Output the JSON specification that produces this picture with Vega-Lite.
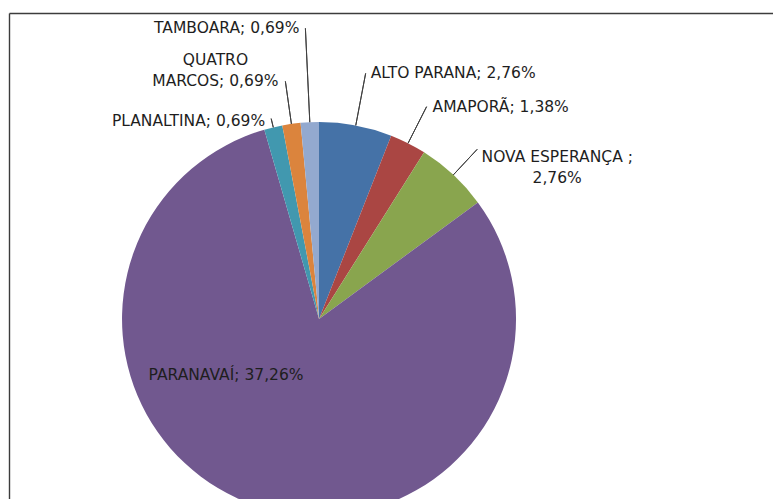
{
  "$schema": "https://vega.github.io/schema/vega-lite/v6.json",
  "width": 764,
  "height": 486,
  "autosize": {"type": "none"},
  "padding": {"left": 9, "top": 13, "right": 0, "bottom": 0},
  "background": "white",
  "view": {"stroke": null},
  "config": {
    "text": {"font": "DejaVu Sans", "fontSize": 15.5, "color": "#1e1e1e", "lineBreak": "\n", "lineHeight": 21, "baseline": "middle"}
  },
  "data": {
    "values": [
      {"municipio": "ALTO PARANA", "pct": 2.76, "rotulo": "ALTO PARANA; 2,76%"},
      {"municipio": "AMAPORÃ", "pct": 1.38, "rotulo": "AMAPORÃ; 1,38%"},
      {"municipio": "NOVA ESPERANÇA", "pct": 2.76, "rotulo": "NOVA ESPERANÇA ;\n2,76%"},
      {"municipio": "PARANAVAÍ", "pct": 37.26, "rotulo": "PARANAVAÍ; 37,26%"},
      {"municipio": "PLANALTINA", "pct": 0.69, "rotulo": "PLANALTINA; 0,69%"},
      {"municipio": "QUATRO MARCOS", "pct": 0.69, "rotulo": "QUATRO\nMARCOS; 0,69%"},
      {"municipio": "TAMBOARA", "pct": 0.69, "rotulo": "TAMBOARA; 0,69%"}
    ]
  },
  "transform": [
    {"stack": "pct", "groupby": [], "sort": [{"field": "municipio", "order": "ascending"}], "as": ["a0", "a1"]},
    {"calculate": "(datum.a0 + datum.a1) / 2", "as": "meio"}
  ],
  "layer": [
    {
      "mark": {"type": "point", "opacity": 0},
      "encoding": {
        "x": {"field": "a0", "type": "quantitative", "axis": {"orient": "top", "domain": true, "domainColor": "#3c3c3c", "domainWidth": 1.4, "ticks": false, "labels": false, "grid": false, "title": null}},
        "y": {"field": "pct", "type": "quantitative", "axis": {"orient": "left", "domain": true, "domainColor": "#3c3c3c", "domainWidth": 1.4, "ticks": false, "labels": false, "grid": false, "title": null}}
      }
    },
    {
      "mark": {"type": "arc", "clip": true, "x": {"expr": "width*0.4058"}, "y": {"expr": "height*0.6296"}, "radius": 197},
      "encoding": {
        "theta": {"field": "pct", "type": "quantitative", "stack": true, "scale": {"zero": true, "nice": false}},
        "order": {"field": "a0", "type": "quantitative"},
        "color": {
          "field": "municipio",
          "type": "nominal",
          "legend": null,
          "scale": {
            "domain": ["ALTO PARANA", "AMAPORÃ", "NOVA ESPERANÇA", "PARANAVAÍ", "PLANALTINA", "QUATRO MARCOS", "TAMBOARA"],
            "range": ["#4572A7", "#AA4643", "#89A54E", "#71588F", "#4198AF", "#DB843D", "#93A9CF"]
          }
        }
      }
    },
    {
      "transform": [{"filter": "datum.municipio === 'ALTO PARANA'"}],
      "layer": [
        {"mark": {"type": "arc", "x": {"expr": "width*0.4058"}, "y": {"expr": "height*0.6296"}, "radius": 250, "radius2": 197, "filled": false, "stroke": "#404040", "strokeWidth": 1},
         "encoding": {"theta": {"field": "meio", "type": "quantitative"}, "theta2": {"field": "meio"}}},
        {"mark": {"type": "text", "x": {"expr": "width*0.4058"}, "y": {"expr": "height*0.6296"}, "radius": 250, "align": "left", "dx": 5},
         "encoding": {"theta": {"field": "meio", "type": "quantitative"}, "text": {"field": "rotulo"}}}
      ]
    },
    {
      "transform": [{"filter": "datum.municipio === 'AMAPORÃ'"}],
      "layer": [
        {"mark": {"type": "arc", "x": {"expr": "width*0.4058"}, "y": {"expr": "height*0.6296"}, "radius": 238, "radius2": 197, "filled": false, "stroke": "#404040", "strokeWidth": 1},
         "encoding": {"theta": {"field": "meio", "type": "quantitative"}, "theta2": {"field": "meio"}}},
        {"mark": {"type": "text", "x": {"expr": "width*0.4058"}, "y": {"expr": "height*0.6296"}, "radius": 238, "align": "left", "dx": 6},
         "encoding": {"theta": {"field": "meio", "type": "quantitative"}, "text": {"field": "rotulo"}}}
      ]
    },
    {
      "transform": [{"filter": "datum.municipio === 'NOVA ESPERANÇA'"}],
      "layer": [
        {"mark": {"type": "arc", "x": {"expr": "width*0.4058"}, "y": {"expr": "height*0.6296"}, "radius": 232, "radius2": 197, "filled": false, "stroke": "#404040", "strokeWidth": 1},
         "encoding": {"theta": {"field": "meio", "type": "quantitative"}, "theta2": {"field": "meio"}}},
        {"mark": {"type": "text", "x": {"expr": "width*0.4058"}, "y": {"expr": "height*0.6296"}, "radius": 232, "align": "center", "dx": 80, "dy": 8},
         "encoding": {"theta": {"field": "meio", "type": "quantitative"}, "text": {"field": "rotulo"}}}
      ]
    },
    {
      "transform": [{"filter": "datum.municipio === 'PARANAVAÍ'"}],
      "mark": {"type": "text", "x": {"expr": "width*0.4058"}, "y": {"expr": "height*0.6296"}, "radius": 0, "align": "center", "dx": -93, "dy": 56},
      "encoding": {"theta": {"field": "meio", "type": "quantitative"}, "text": {"field": "rotulo"}}
    },
    {
      "transform": [{"filter": "datum.municipio === 'PLANALTINA'"}],
      "layer": [
        {"mark": {"type": "arc", "x": {"expr": "width*0.4058"}, "y": {"expr": "height*0.6296"}, "radius": 206, "radius2": 197, "filled": false, "stroke": "#404040", "strokeWidth": 1},
         "encoding": {"theta": {"field": "meio", "type": "quantitative"}, "theta2": {"field": "meio"}}},
        {"mark": {"type": "text", "x": {"expr": "width*0.4058"}, "y": {"expr": "height*0.6296"}, "radius": 206, "align": "right", "dx": -6, "dy": 2},
         "encoding": {"theta": {"field": "meio", "type": "quantitative"}, "text": {"field": "rotulo"}}}
      ]
    },
    {
      "transform": [{"filter": "datum.municipio === 'QUATRO MARCOS'"}],
      "layer": [
        {"mark": {"type": "arc", "x": {"expr": "width*0.4058"}, "y": {"expr": "height*0.6296"}, "radius": 240, "radius2": 197, "filled": false, "stroke": "#404040", "strokeWidth": 1},
         "encoding": {"theta": {"field": "meio", "type": "quantitative"}, "theta2": {"field": "meio"}}},
        {"mark": {"type": "text", "x": {"expr": "width*0.4058"}, "y": {"expr": "height*0.6296"}, "radius": 240, "align": "center", "dx": -70, "dy": -21},
         "encoding": {"theta": {"field": "meio", "type": "quantitative"}, "text": {"field": "rotulo"}}}
      ]
    },
    {
      "transform": [{"filter": "datum.municipio === 'TAMBOARA'"}],
      "layer": [
        {"mark": {"type": "arc", "x": {"expr": "width*0.4058"}, "y": {"expr": "height*0.6296"}, "radius": 291, "radius2": 197, "filled": false, "stroke": "#404040", "strokeWidth": 1},
         "encoding": {"theta": {"field": "meio", "type": "quantitative"}, "theta2": {"field": "meio"}}},
        {"mark": {"type": "text", "x": {"expr": "width*0.4058"}, "y": {"expr": "height*0.6296"}, "radius": 291, "align": "right", "dx": -6},
         "encoding": {"theta": {"field": "meio", "type": "quantitative"}, "text": {"field": "rotulo"}}}
      ]
    }
  ]
}
